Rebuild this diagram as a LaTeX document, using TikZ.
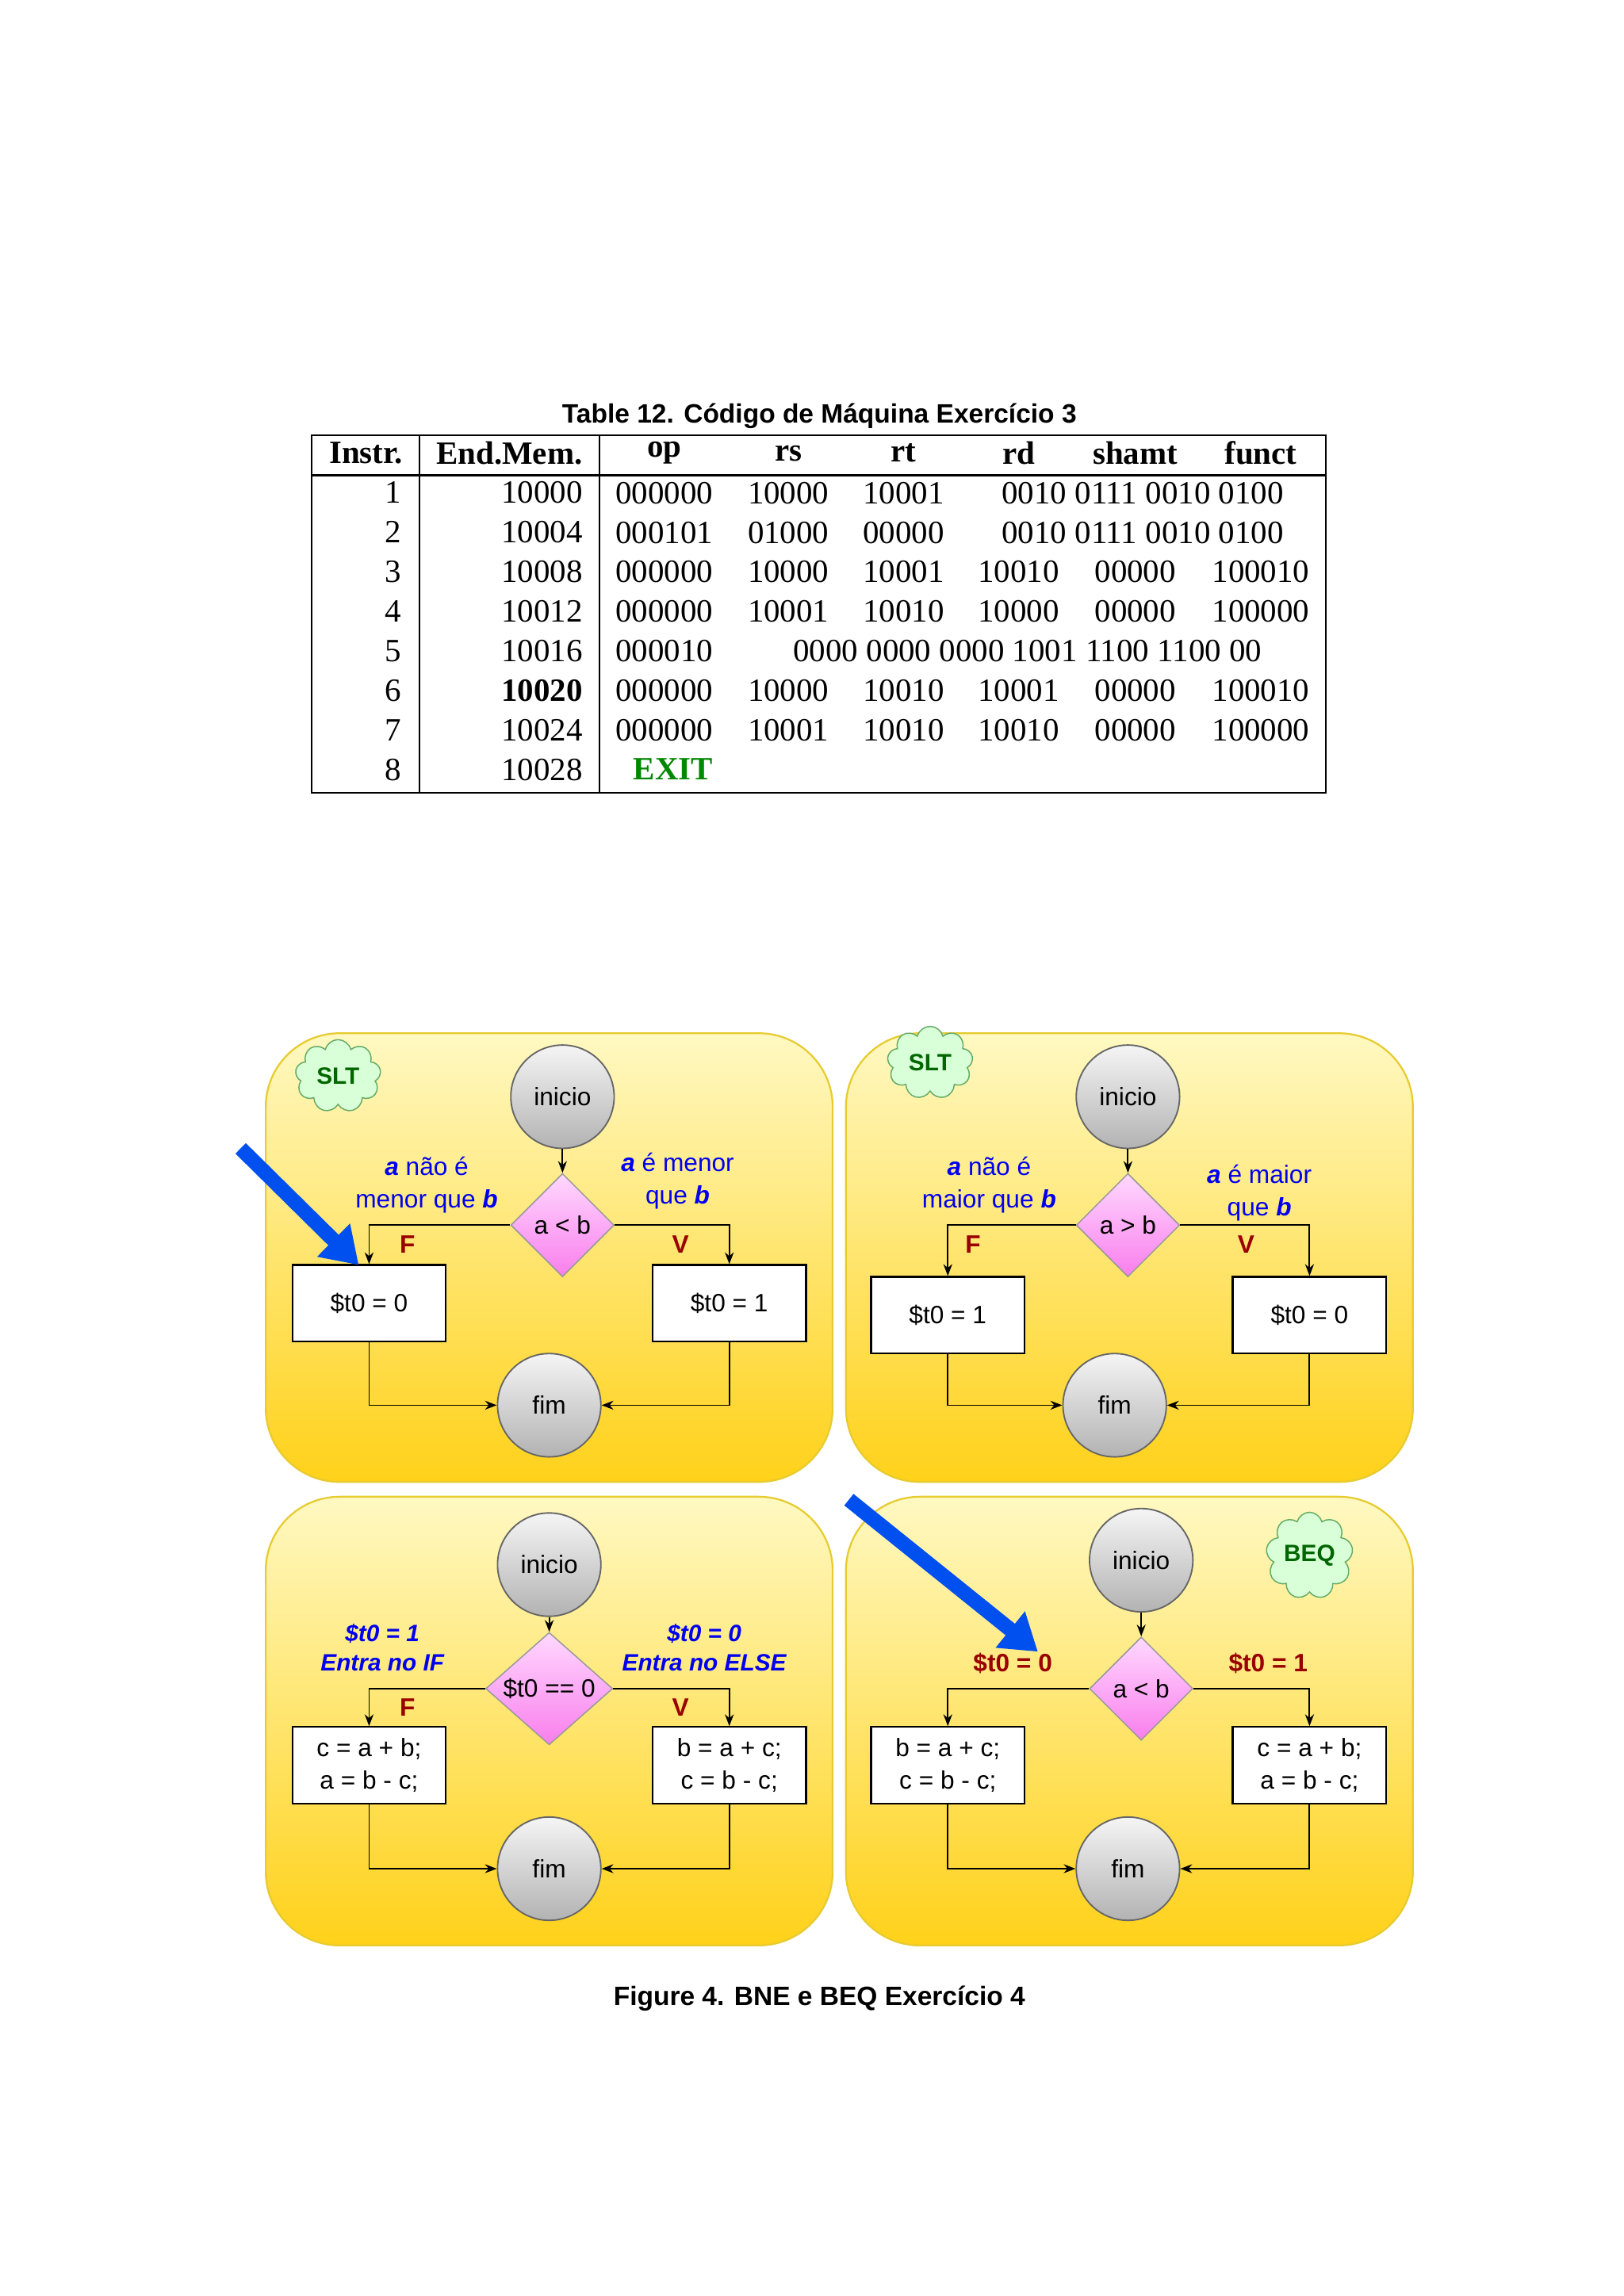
\documentclass[tikz,border=0pt]{standalone}
\usepackage{fontspec}
\setmainfont{Liberation Serif}
\newfontfamily\sansf{Liberation Sans}
\usetikzlibrary{shapes.geometric,shapes.symbols,arrows.meta}
\definecolor{pblue}{HTML}{0000EE}
\definecolor{pred}{HTML}{990000}
\definecolor{pgreen}{HTML}{006600}
\definecolor{parrow}{HTML}{0050EF}
\definecolor{exitg}{HTML}{008800}
\begin{document}
\begin{tikzpicture}[x=0.5pt,y=-0.5pt,
  panel/.style={draw=#1,line width=0.6pt,rounded corners=25pt,top color=yellow!20!white!95!orange,bottom color=yellow!60!orange!90!white},
  term/.style={circle,draw=black!60,line width=0.5pt,minimum size=35pt,inner sep=0pt,top color=black!4,bottom color=black!30,font=\sansf\fontsize{8.5}{10}\selectfont},
  dec/.style={diamond,draw=black!40,line width=0.4pt,minimum width=35pt,minimum height=35pt,inner sep=0pt,top color=magenta!15!white,bottom color=magenta!45!white!90!purple,font=\sansf\fontsize{8.5}{10}\selectfont},
  box/.style={draw=black,line width=0.6pt,fill=white,minimum width=52pt,minimum height=26pt,inner sep=1pt,align=center,font=\sansf\fontsize{8.5}{11}\selectfont},
  cl/.style={cloud,cloud puffs=9,draw=green!45!black!60,fill=green!15!white,minimum width=29pt,minimum height=18pt,inner sep=0pt,font=\sansf\bfseries\fontsize{8}{9}\selectfont,text=pgreen},
  ar/.style={-{Stealth[length=4pt,width=3pt]},line width=0.5pt},
  bl/.style={text=pblue,align=center,font=\sansf\fontsize{8.5}{11}\selectfont},
  fv/.style={text=pred,font=\sansf\bfseries\fontsize{8.5}{10}\selectfont},
  big/.style={-{Triangle[length=12pt,width=15pt]},line width=5pt,draw=parrow},
  cell/.style={font=\fontsize{11}{13}\selectfont,inner sep=0pt}]
\useasboundingbox (0,0) rectangle (1100,1555.5);
% ---- table
\node[font=\sansf\bfseries\fontsize{9}{11}\selectfont] (tcap) at (555,282) {Table 12. Código de Máquina Exercício 3};
\draw[line width=0.6pt] (211,295) rectangle (898,537);
\draw[line width=0.6pt] (211,322) -- (898,322) (284,295) -- (284,537) (406,295) -- (406,537);
\foreach \t/\x [count=\i] in {Instr./248,End.Mem./345,op/450,rs/534,rt/612,rd/690,shamt/769,funct/854}
  \node[cell,font=\bfseries\fontsize{11}{13}\selectfont] (h\i) at (\x,307) {\t};
\foreach \n/\a [count=\i] in {1/10000,2/10004,3/10008,4/10012,5/10016,6/{\bfseries 10020},7/10024,8/10028}{
  \node[cell,anchor=east] (n\i) at (272,{307+26.8*\i}) {\n};
  \node[cell,anchor=east] (m\i) at (395,{307+26.8*\i}) {\a};}
\foreach \r/\op/\rs/\rt/\rd/\sh/\fu in {3/000000/10000/10001/10010/00000/100010,4/000000/10001/10010/10000/00000/100000,6/000000/10000/10010/10001/00000/100010,7/000000/10001/10010/10010/00000/100000}{
  \node[cell] (o\r) at (450,{307+26.8*\r}) {\op};
  \node[cell] (s\r) at (534,{307+26.8*\r}) {\rs};
  \node[cell] (t\r) at (612,{307+26.8*\r}) {\rt};
  \node[cell] (d\r) at (690,{307+26.8*\r}) {\rd};
  \node[cell] (a\r) at (769,{307+26.8*\r}) {\sh};
  \node[cell] (f\r) at (854,{307+26.8*\r}) {\fu};}
\node[cell] (o1) at (450,334) {000000}; \node[cell] (s1) at (534,334) {10000}; \node[cell] (t1) at (612,334) {10001};
\node[cell] (i1) at (774,334) {0010 0111 0010 0100};
\node[cell] (o2) at (450,361) {000101}; \node[cell] (s2) at (534,361) {01000}; \node[cell] (t2) at (612,361) {00000};
\node[cell] (i2) at (774,361) {0010 0111 0010 0100};
\node[cell] (o5) at (450,441) {000010};
\node[cell] (j5) at (696,441) {0000 0000 0000 1001 1100 1100 00};
\node[cell,text=exitg,font=\bfseries\fontsize{11}{13}\selectfont] (o8) at (456,521) {EXIT};
% ---- panels
\draw[panel=yellow!60!brown] (180,700) rectangle (564,1004);
\draw[panel=yellow!60!brown] (573,700) rectangle (957,1004);
\draw[panel=yellow!60!brown] (180,1014) rectangle (564,1318);
\draw[panel=yellow!60!brown] (573,1014) rectangle (957,1318);
% TL
\node[cl] (c1) at (229,729) {SLT};
\node[term] (i1s) at (381,743) {inicio};
\node[dec] (d1) at (381,830) {a < b};
\node[box] (l1) at (250,883) {\$t0 = 0};
\node[box] (r1) at (494,883) {\$t0 = 1};
\node[term] (e1) at (372,952) {fim};
\draw[ar] (i1s) -- (d1);
\draw[ar] (d1.west) -| (l1.north);
\draw[ar] (d1.east) -| (r1.north);
\draw[ar] (l1.south) |- (e1.west);
\draw[ar] (r1.south) |- (e1.east);
\node[fv] (f1) at (276,843) {F}; \node[fv] (v1) at (461,843) {V};
\node[bl] (b1) at (289,803) {\textbf{\textit{a}} não é\\menor que \textbf{\textit{b}}};
\node[bl] (b2) at (459,800) {\textbf{\textit{a}} é menor\\que \textbf{\textit{b}}};
\coordinate (p1) at (163,778); \coordinate (q1) at (243,857);
\draw[big] (p1) -- (q1);
% TR
\node[cl] (c2) at (630,720) {SLT};
\node[term] (i2s) at (764,743) {inicio};
\node[dec] (d2) at (764,830) {a > b};
\node[box] (l2) at (642,891) {\$t0 = 1};
\node[box] (r2) at (887,891) {\$t0 = 0};
\node[term] (e2) at (755,952) {fim};
\draw[ar] (i2s) -- (d2);
\draw[ar] (d2.west) -| (l2.north);
\draw[ar] (d2.east) -| (r2.north);
\draw[ar] (l2.south) |- (e2.west);
\draw[ar] (r2.south) |- (e2.east);
\node[fv] (f2) at (659,843) {F}; \node[fv] (v2) at (844,843) {V};
\node[bl] (b3) at (670,803) {\textbf{\textit{a}} não é\\maior que \textbf{\textit{b}}};
\node[bl] (b4) at (853,808) {\textbf{\textit{a}} é maior\\que \textbf{\textit{b}}};
% BL
\node[term] (i3s) at (372,1060) {inicio};
\node[dec,minimum width=43pt] (d3) at (372,1144) {\$t0 == 0};
\node[box] (l3) at (250,1196) {c = a + b;\\a = b - c;};
\node[box] (r3) at (494,1196) {b = a + c;\\c = b - c;};
\node[term] (e3) at (372,1266) {fim};
\draw[ar] (i3s) -- (d3);
\draw[ar] (d3.west) -| (l3.north);
\draw[ar] (d3.east) -| (r3.north);
\draw[ar] (l3.south) |- (e3.west);
\draw[ar] (r3.south) |- (e3.east);
\node[fv] (f3) at (276,1157) {F}; \node[fv] (v3) at (461,1157) {V};
\node[bl,font=\sansf\bfseries\itshape\fontsize{8}{10}\selectfont] (b5) at (259,1116) {\$t0 = 1\\Entra no IF};
\node[bl,font=\sansf\bfseries\itshape\fontsize{8}{10}\selectfont] (b6) at (477,1116) {\$t0 = 0\\Entra no ELSE};
% BR
\node[cl] (c4) at (887,1054) {BEQ};
\node[term] (i4s) at (773,1057) {inicio};
\node[dec] (d4) at (773,1144) {a < b};
\node[box] (l4) at (642,1196) {b = a + c;\\c = b - c;};
\node[box] (r4) at (887,1196) {c = a + b;\\a = b - c;};
\node[term] (e4) at (764,1266) {fim};
\draw[ar] (i4s) -- (d4);
\draw[ar] (d4.west) -| (l4.north);
\draw[ar] (d4.east) -| (r4.north);
\draw[ar] (l4.south) |- (e4.west);
\draw[ar] (r4.south) |- (e4.east);
\node[fv] (g1) at (686,1127) {\$t0 = 0}; \node[fv] (g2) at (859,1127) {\$t0 = 1};
\coordinate (p2) at (575,1016); \coordinate (q2) at (703,1119);
\draw[big] (p2) -- (q2);
% caption
\node[font=\sansf\bfseries\fontsize{9}{11}\selectfont] (fcap) at (555,1354) {Figure 4. BNE e BEQ Exercício 4};
\end{tikzpicture}
\end{document}
